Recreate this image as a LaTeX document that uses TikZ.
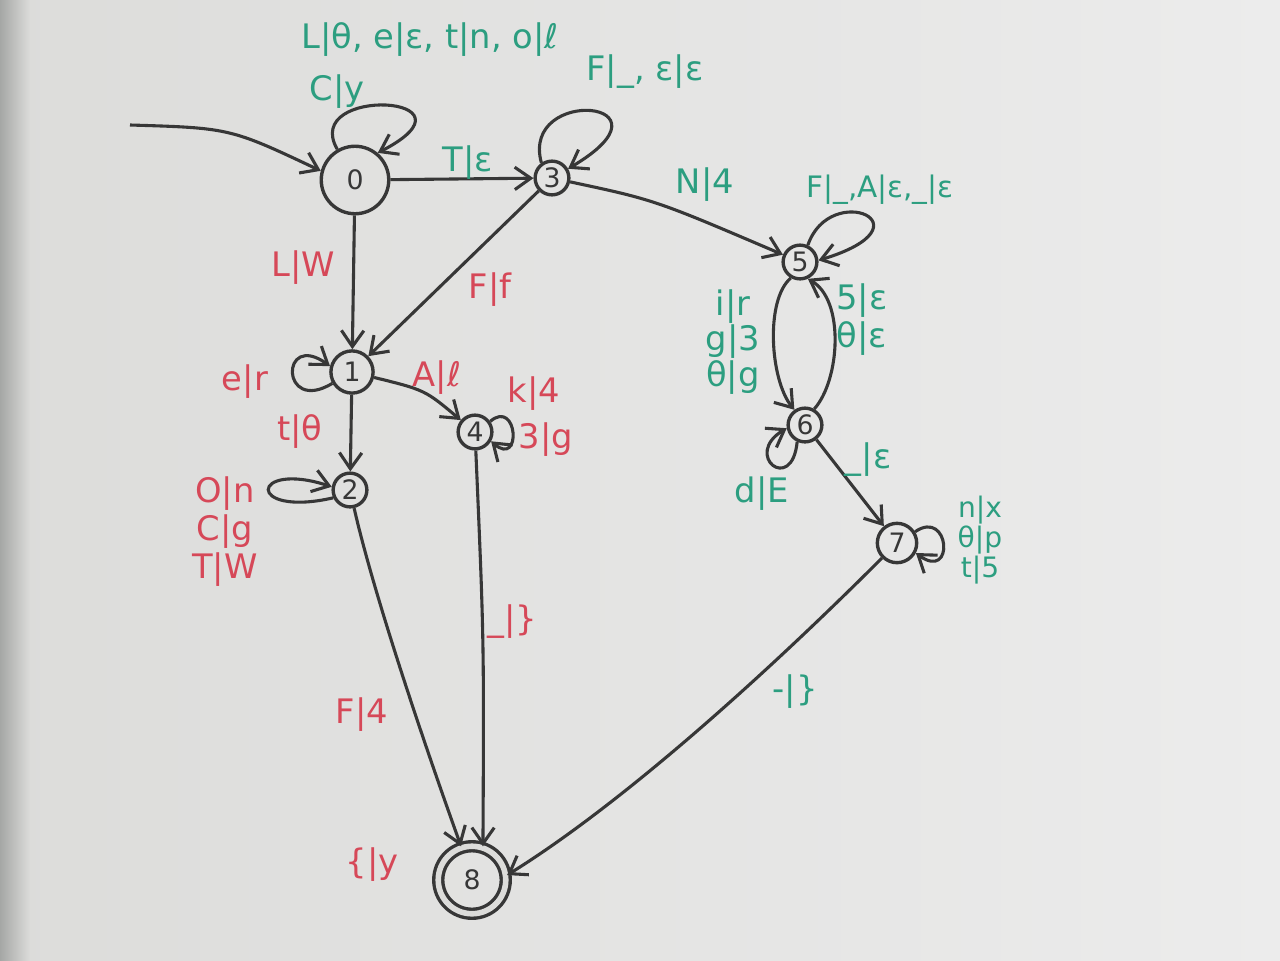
\documentclass[tikz,border=0pt]{standalone}
\usepackage{fontspec}
\setmainfont{DejaVu Sans}
\usepackage{tikz}
\usetikzlibrary{positioning,arrows.meta,calc}

\definecolor{board}{RGB}{220,220,218}
\definecolor{boardlight}{RGB}{236,236,236}
\definecolor{frame}{RGB}{165,167,165}
\definecolor{ink}{RGB}{55,55,55}
\definecolor{teal}{RGB}{44,158,128}
\definecolor{redink}{RGB}{214,72,88}

\tikzset{
  state/.style={draw=ink,circle,line width=2.4pt,inner sep=0pt,minimum size=24pt,font=\fontsize{19}{19}\selectfont,text=ink},
  final/.style={state,double=board,double distance=4pt},
  edge/.style={draw=ink,line width=2.2pt,-{Straight Barb[length=4mm,width=5.6mm]}},
  lblg/.style={text=teal,font=\fontsize{24}{24}\selectfont,inner sep=1pt,align=center},
  lblr/.style={text=redink,font=\fontsize{24}{24}\selectfont,inner sep=1pt,align=center}
}

\begin{document}
\begin{tikzpicture}[x=0.025cm,y=-0.025cm]
\useasboundingbox (0,0) rectangle (1280,960);
\shade[left color=board,right color=boardlight] (0,0) rectangle (1280,960);
\shade[left color=frame,right color=board] (0,0) rectangle (30,960);

\node[state,minimum size=48pt] (n0) at (355,180) {0};
\node[state] (n3) at (552,178) {3};
\node[state] (n5) at (800,262) {5};
\node[state,minimum size=30pt] (n1) at (352,372) {1};
\node[state] (n4) at (475,432) {4};
\node[state] (n6) at (805,425) {6};
\node[state] (n2) at (350,490) {2};
\node[state,minimum size=28pt] (n7) at (897,543) {7};
\node[final,minimum size=48pt] (n8) at (472,880) {8};
\coordinate (start) at (130,125);

\draw[edge] (start) .. controls (230,128) .. (n0.165);
\draw[edge] (n0.120) .. controls (300,85) and (490,95) .. (n0.50)
  node[lblg] at (430,40) {L|θ, e|ɛ, t|n, o|ℓ}
  node[lblg] at (337,92) {C|y};
\draw[edge] (n0) -- (n3) node[lblg] at (468,163) {T|ɛ};
\draw[edge] (n0) -- (n1) node[lblr] at (303,268) {L|W};
\draw[edge] (n3.125) .. controls (520,85) and (685,100) .. (n3.30)
  node[lblg] at (645,72) {F|\_, ɛ|ɛ};
\draw[edge] (n3) -- (n1) node[lblr] at (490,290) {F|f};
\draw[edge] (n3) .. controls (655,200) .. (n5) node[lblg] at (705,185) {N|4};
\draw[edge] (n5.65) .. controls (830,180) and (935,225) .. (n5.5)
  node[lblg,font=\fontsize{21}{21}\selectfont] at (880,190) {F|\_,A|ɛ,\_|ɛ};
\draw[edge] (n1.210) .. controls (280,415) and (280,330) .. (n1.165)
  node[lblr] at (245,382) {e|r};
\draw[edge] (n1) .. controls (425,390) .. (n4) node[lblr] at (437,378) {A|ℓ};
\draw[edge] (n1) -- (n2) node[lblr] at (300,432) {t|θ};
\draw[edge] (n2.205) .. controls (245,518) and (250,460) .. (n2.170)
  node[lblr,font=\fontsize{24}{27}\selectfont] at (225,532) {O|n\\C|g\\T|W};
\draw[edge] (n4.35) .. controls (518,398) and (522,468) .. (n4.-30)
  node[lblr] at (534,394) {k|4}
  node[lblr] at (546,440) {3|g};
\draw[edge] (n2) .. controls (375,600) and (430,760) .. (n8.108) node[lblr] at (362,715) {F|4};
\draw[edge] (n4) .. controls (484,640) .. (n8.72) node[lblr] at (512,622) {\_|\}};
\draw[edge] (n5.240) .. controls (765,300) and (770,380) .. (n6.125)
  node[lblg,font=\fontsize{24}{23}\selectfont] at (733,342) {i|r\\g|3\\θ|g};
\draw[edge] (n6.60) .. controls (840,380) and (845,300) .. (n5.295)
  node[lblg,font=\fontsize{24}{27}\selectfont] at (862,320) {5|ɛ\\θ|ɛ};
\draw[edge] (n6.245) .. controls (792,495) and (742,455) .. (n6.190)
  node[lblg] at (762,494) {d|E};
\draw[edge] (n6) -- (n7) node[lblg] at (868,460) {\_|ɛ};
\draw[edge] (n7.32) .. controls (950,508) and (955,582) .. (n7.-28)
  node[lblg,font=\fontsize{20}{19}\selectfont] at (980,540) {n|x\\θ|p\\t|5};
\draw[edge] (n7) .. controls (760,680) and (620,805) .. (n8.8) node[lblg] at (795,692) {-|\}};
\node[lblr] (l8) at (372,865) {\{|y};
\end{tikzpicture}
\end{document}
